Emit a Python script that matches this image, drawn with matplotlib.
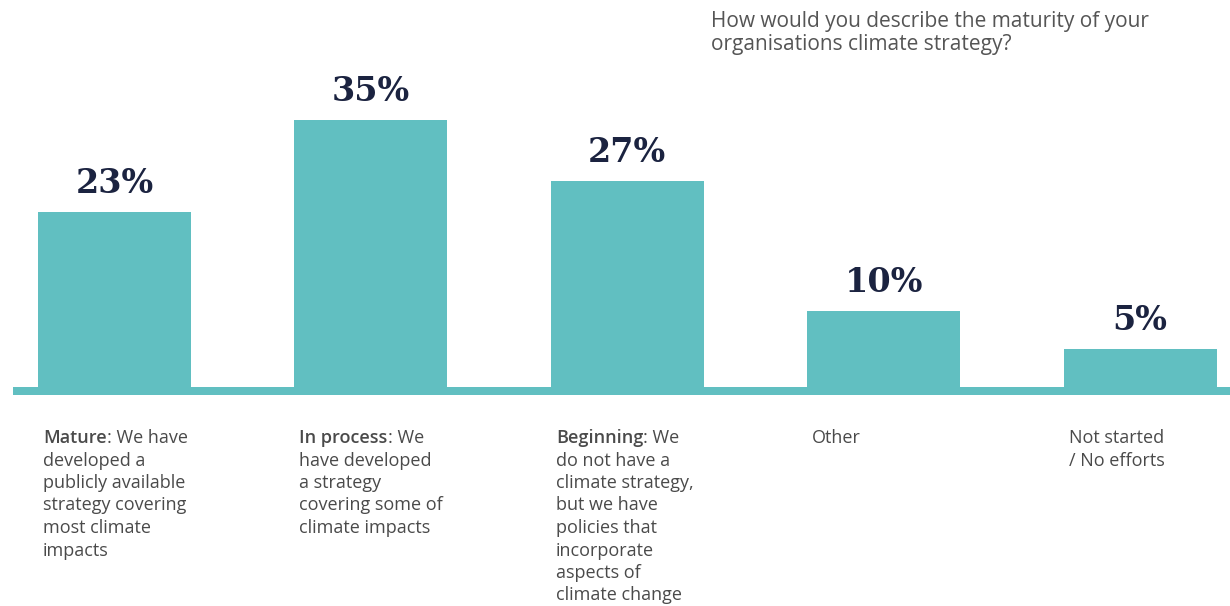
import matplotlib
matplotlib.use("Agg")
import matplotlib.pyplot as plt

# survey answers
values = [23, 35, 27, 10, 5]
bold_parts = ["Mature", "In process", "Beginning", "", ""]
label_lines = [
    [": We have", "developed a", "publicly available", "strategy covering",
     "most climate", "impacts"],
    [": We", "have developed", "a strategy", "covering some of",
     "climate impacts"],
    [": We", "do not have a", "climate strategy,", "but we have",
     "policies that", "incorporate", "aspects of", "climate change"],
    ["Other"],
    ["Not started", "/ No efforts"],
]
title = "How would you describe the maturity of your\norganisations climate strategy?"

TEAL = "#61bfc1"
NAVY = "#1b2340"
GREY = "#4a4a4a"
SANS = "Open Sans"

W, H = 1230, 606
fig = plt.figure(figsize=(W / 100, H / 100), dpi=100)
ax = fig.add_axes([0, 0, 1, 1])
ax.axis("off")

step = 256.4          # px between bar centres
px_per = 7.62         # px per percent
base = 387            # baseline from top, px
x0 = 114.5 / step
ax.set_xlim(-x0, (W - 114.5) / step)
ax.set_ylim(-(H - base) / px_per, base / px_per)

pos = list(range(len(values)))
bw = 153 / step
ax.bar(pos, values, width=bw, color=TEAL, zorder=2)
ax.axhspan(-8 / px_per, 0, xmin=13 / W, xmax=1, color=TEAL, lw=0, zorder=2)

for p, v in zip(pos, values):
    ax.text(p, v + 2.5, f"{v}%", ha="center", va="baseline",
            fontsize=24, fontweight="bold", family="DejaVu Serif", color=NAVY)

lab_y = -42 / px_per
lh = 22.5 * 0.72  # line height in points
fs = 13
for p, bp, lines in zip(pos, bold_parts, label_lines):
    lx = p - bw / 2 + 5 / step
    for k, line in enumerate(lines):
        if k == 0 and bp:
            t = ax.annotate(bp, xy=(lx, lab_y), xytext=(0, 0),
                            textcoords="offset points", ha="left", va="top",
                            fontsize=fs, family=SANS, fontweight="semibold",
                            color=GREY)
            ax.annotate(line, xy=(1, 0), xycoords=t, ha="left", va="bottom",
                        fontsize=fs, family=SANS, color=GREY)
        else:
            ax.annotate(line, xy=(lx, lab_y), xytext=(0, -k * lh),
                        textcoords="offset points", ha="left", va="top",
                        fontsize=fs, family=SANS, color=GREY)

fig.text(711 / W, 1 - 11 / H, title, ha="left", va="top", fontsize=15,
         family=SANS, color="#555555", linespacing=1.12)

fig.savefig("out.png", dpi=100)
